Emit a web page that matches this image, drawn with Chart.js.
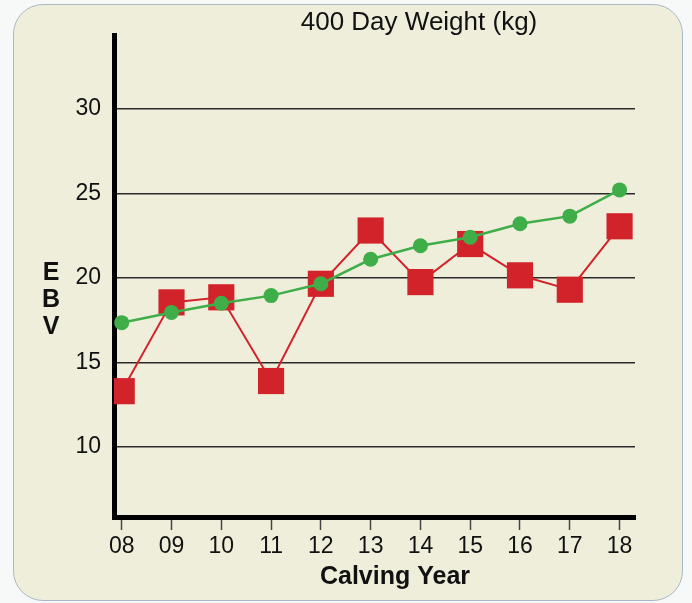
<!DOCTYPE html>
<html>
<head>
<meta charset="utf-8">
<script src="https://cdn.jsdelivr.net/npm/chart.js@4.4.0/dist/chart.umd.min.js"></script>
<style>
    html, body { margin: 0; padding: 0; background: #f7f9f9; }
    #wrap { position: relative; width: 692px; height: 603px; }
    #panel {
        position: absolute; left: 13px; top: 4px; width: 668px; height: 595px;
        background: #efeedb; border: 1.5px solid #a9b8c6; border-radius: 30px;
    }
    #c { position: absolute; left: 0; top: 0; }
</style>
</head>
<body>
<div id="wrap">
    <div id="panel"></div>
    <canvas id="c" width="692" height="603"></canvas>
</div>
<script>
// data
const years = [2008, 2009, 2010, 2011, 2012, 2013, 2014, 2015, 2016, 2017, 2018];
const sireEbv = [13.3, 18.55, 18.85, 13.9, 19.65, 22.8, 19.75, 22.0, 20.15, 19.3, 23.05];
const breedAvg = [17.35, 17.95, 18.5, 18.95, 19.65, 21.1, 21.9, 22.4, 23.2, 23.65, 25.2];
const yTicks = [10, 15, 20, 25, 30];

const titleText = '400 Day Weight (kg)';
const xTitle = 'Calving Year';
const yTitle = ['E', 'B', 'V'];

// draws the titles (y title is stacked letters, not rotated)
const titles = {
    id: 'titles',
    afterDraw(chart) {
        const ctx = chart.ctx;
        ctx.save();
        ctx.fillStyle = '#111';
        ctx.textAlign = 'center';
        ctx.textBaseline = 'middle';
        ctx.font = '26px "Liberation Sans", Arial, sans-serif';
        ctx.fillText(titleText, 419, 23);
        ctx.font = 'bold 25px "Liberation Sans", Arial, sans-serif';
        ctx.fillText(xTitle, 395, 577);
        yTitle.forEach(function (ch, i) {
            ctx.fillText(ch, 51, 273 + i * 27);
        });
        ctx.restore();
    }
};

const ctx = document.getElementById('c').getContext('2d');
const chart = new Chart(ctx, {
    type: 'line',
    data: {
        datasets: [{
            label: 'Breed average',
            data: years.map((y, i) => ({ x: y, y: breedAvg[i] })),
            borderColor: '#3fae49',
            backgroundColor: '#3fae49',
            borderWidth: 2.5,
            pointRadius: 7.5,
            pointStyle: 'circle',
            pointBorderWidth: 0
        }, {
            label: 'EBV',
            data: years.map((y, i) => ({ x: y, y: sireEbv[i] })),
            borderColor: '#d2232a',
            backgroundColor: '#d2232a',
            borderWidth: 2,
            pointRadius: 18.5,
            pointStyle: 'rect',
            pointBorderWidth: 0
        }]
    },
    options: {
        responsive: false,
        animation: false,
        layout: { padding: { left: 0, top: 35, right: 57, bottom: 0 } },
        plugins: {
            legend: { display: false },
            tooltip: { enabled: false },
            title: { display: false }
        },
        scales: {
            x: {
                type: 'linear',
                min: 2007.845,
                max: 2018.31,
                border: { display: true, color: '#000', width: 5 },
                grid: {
                    display: true,
                    drawOnChartArea: false,
                    drawTicks: true,
                    tickLength: 13,
                    tickColor: '#444',
                    tickWidth: 1.5
                },
                ticks: {
                    stepSize: 1,
                    includeBounds: false,
                    autoSkip: false,
                    maxRotation: 0,
                    padding: 3,
                    color: '#111',
                    font: { family: '"Liberation Sans", Arial, sans-serif', size: 23 },
                    callback: function (v) { return String(v).slice(2); }
                },
                afterFit: function (s) { s.height = 86; }
            },
            y: {
                min: 5.86,
                max: 34.36,
                border: { display: true, color: '#000', width: 5 },
                grid: {
                    color: '#2a2a2a',
                    lineWidth: 1.5,
                    drawTicks: false
                },
                afterBuildTicks: function (s) {
                    s.ticks = yTicks.map(v => ({ value: v }));
                },
                ticks: {
                    padding: 13,
                    color: '#111',
                    font: { family: '"Liberation Sans", Arial, sans-serif', size: 23 }
                },
                afterFit: function (s) { s.width = 114; }
            }
        }
    },
    plugins: [titles]
});
</script>
</body>
</html>
